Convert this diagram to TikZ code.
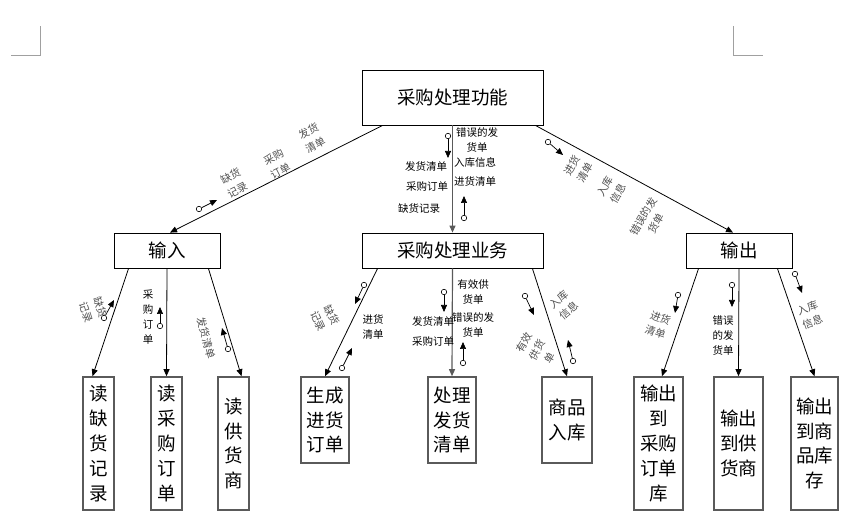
\documentclass[tikz,border=0pt]{standalone}
\usepackage{fontspec}
\usetikzlibrary{arrows.meta,positioning}
\newfontfamily\cjk{Noto Sans CJK SC}
\definecolor{markgray}{HTML}{A0A0A0}
\definecolor{boxgray}{HTML}{5A5A5A}
\definecolor{labelgray}{HTML}{505050}

\begin{document}
\begin{tikzpicture}[x=1pt, y=-1pt, >={Triangle[length=7pt,width=6pt]}, line width=0.8pt, font=\cjk,
  topbox/.style={draw, inner sep=0pt, font=\cjk\fontsize{18.5}{24}\selectfont},
  leafbox/.style={draw=boxgray, line width=1.6pt, inner sep=0pt, align=center, font=\cjk\fontsize{18.5}{24.8}\selectfont},
  lbl/.style={font=\cjk\fontsize{10.5}{15}\selectfont, align=center, inner sep=0pt},
  tilt/.style={lbl, text=labelgray},
  dot/.style={circle, draw, fill=white, inner sep=0pt, minimum size=5.5pt, line width=0.6pt},
  flag/.style={->, line width=0.7pt}]
  \useasboundingbox (0,0) rectangle (855,529);
  % page corner marks
  \draw[markgray] (11,55) -- (40,55) -- (40,26);
  \draw[markgray] (733,26) -- (733,55) -- (763,55);

  % upper levels
  \node[topbox, minimum width=181, minimum height=55] (func) at (452.5,97.5) {采购处理功能};
  \node[topbox, minimum width=106, minimum height=35] (input) at (167,250.5) {输入};
  \node[topbox, minimum width=181, minimum height=35] (biz) at (452.5,250.5) {采购处理业务};
  \node[topbox, minimum width=106, minimum height=35] (output) at (739,250.5) {输出};

  % modules
  \node[leafbox, minimum width=31, minimum height=133] (rq) at (98.5,443.5) {读\\缺\\货\\记\\录};
  \node[leafbox, minimum width=31, minimum height=133] (ro) at (166.5,443.5) {读\\采\\购\\订\\单};
  \node[leafbox, minimum width=31, minimum height=133] (rs) at (233.5,443.5) {读\\供\\货\\商};
  \node[leafbox, minimum width=48, minimum height=86] (gen) at (325,420) {生成\\进货\\订单};
  \node[leafbox, minimum width=48, minimum height=86] (proc) at (452,420) {处理\\发货\\清单};
  \node[leafbox, minimum width=50, minimum height=86] (stock) at (567,420) {商品\\入库};
  \node[leafbox, minimum width=49, minimum height=133] (oo) at (658.5,443.5) {输出\\到\\采购\\订单\\库};
  \node[leafbox, minimum width=49, minimum height=133] (os) at (738.5,443.5) {输出\\到供\\货商};
  \node[leafbox, minimum width=47, minimum height=133] (ok) at (814.5,443.5) {输出\\到商\\品库\\存};

  % connectors
  \draw[->] ([xshift=21]func.south west) -- ([xshift=3]input.north);
  \draw[->, boxgray, line width=1.2pt] (func.south) -- (biz.north);
  \draw[->] ([xshift=-8]func.south east) -- ([xshift=-6]output.north);
  \draw[->] ([xshift=15]input.south west) -- ([xshift=-6]rq.north);
  \draw[->] (input.south) -- (ro.north);
  \draw[->] ([xshift=-12]input.south east) -- ([xshift=8]rs.north);
  \draw[->] ([xshift=16]biz.south west) -- (gen.north);
  \draw[->, boxgray, line width=1.2pt] (biz.south) -- (proc.north);
  \draw[->] ([xshift=-11]biz.south east) -- (stock.north);
  \draw[->] ([xshift=13]output.south west) -- ([xshift=3.5]oo.north);
  \draw[->] (output.south) -- (os.north);
  \draw[->] ([xshift=-15]output.south east) -- (ok.north);

  % data couples
  \foreach \cx/\cy/\tx/\ty [count=\i] in {199/209/217/200, 448/136/448/158, 464/218/464/196,
      548/142/563/155, 104/318/114/300, 160/326/160/307, 228/349/222/328, 364/285/355/304,
      342/368/352/348, 444/292/444/312, 463/363/463/342, 525/296/534/315, 573/361/568/340,
      678/295/675/313, 732/285/732/307, 795/274/802/293} {
    \node[dot] (c\i) at (\cx,\cy) {};
    \coordinate (t\i) at (\tx,\ty);
    \draw[flag] (c\i) -- (t\i);
  }

  % labels
  \node[tilt, rotate=27] (l1) at (234,183) {缺货\\记录};
  \node[tilt, rotate=27] (l2) at (277,164) {采购\\订单};
  \node[tilt, rotate=27] (l3) at (312,138) {发货\\清单};
  \node[lbl] (l4) at (477,139.5) {错误的发\\货单};
  \node[lbl] (l5) at (475,162) {入库信息};
  \node[lbl] (l6) at (475,181) {进货清单};
  \node[lbl] (l7) at (426,167) {发货清单};
  \node[lbl] (l8) at (427,187) {采购订单};
  \node[lbl] (l9) at (419,208) {缺货记录};
  \node[tilt, rotate=60] (l10) at (579,169) {进货\\清单};
  \node[tilt, rotate=60] (l11) at (612,190) {入库\\信息};
  \node[tilt, rotate=60] (l12) at (650,220) {错误的发\\货单};
  \node[tilt, rotate=-72] (l13) at (93,310) {缺货\\记录};
  \node[lbl] (l14) at (148,317) {采\\购\\订\\单};
  \node[tilt, rotate=-75] (l15) at (206,338) {发货清单};
  \node[tilt, rotate=-65] (l16) at (325,318) {缺货\\记录};
  \node[lbl] (l17) at (373,327) {进货\\清单};
  \node[lbl] (l18) at (433,322) {发货清单};
  \node[lbl] (l19) at (433,342) {采购订单};
  \node[lbl] (l20) at (473,292) {有效供\\货单};
  \node[lbl] (l21) at (473,325) {错误的发\\货单};
  \node[tilt, rotate=40] (l22) at (564,305) {入库\\信息};
  \node[tilt, rotate=60] (l23) at (537,350) {有效\\供货\\单};
  \node[tilt, rotate=-20] (l24) at (658,325) {进货\\清单};
  \node[lbl] (l25) at (723,336) {错误\\的发\\货单};
  \node[tilt, rotate=20] (l26) at (810,315) {入库\\信息};
\end{tikzpicture}
\end{document}
